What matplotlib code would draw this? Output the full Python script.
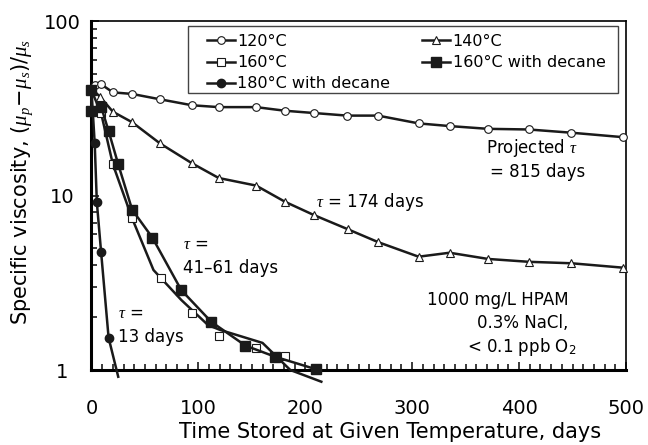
import matplotlib
matplotlib.use("Agg")
import matplotlib.pyplot as plt
from matplotlib.ticker import FixedLocator, NullFormatter, LogLocator
from matplotlib.lines import Line2D
from matplotlib.patches import Rectangle

plt.rcParams['font.family'] = ['DejaVu Sans']
plt.rcParams['mathtext.fontset'] = 'custom'
plt.rcParams['mathtext.rm'] = 'DejaVu Sans'
plt.rcParams['mathtext.it'] = 'Liberation Serif:italic'
plt.rcParams['mathtext.bf'] = 'DejaVu Sans:bold'

# ---- data ----
days_120 = [3, 9, 20, 38, 64, 94, 119, 154, 181, 208, 239, 268, 306, 335, 371, 409, 449, 497]
visc_120 = [43.0, 43.4, 39.0, 38.2, 35.6, 32.9, 32.1, 32.1, 30.6, 29.7, 28.7, 28.7, 25.9, 25.0, 24.1, 23.9, 22.9, 21.6]

days_140 = [0, 8, 20, 38, 64, 94, 119, 154, 181, 208, 240, 268, 306, 335, 371, 409, 449, 497]
visc_140 = [41.0, 36.8, 30.2, 26.3, 19.9, 15.3, 12.6, 11.4, 9.21, 7.73, 6.40, 5.41, 4.46, 4.70, 4.33, 4.17, 4.09, 3.86]

days_160 = [0, 9, 20, 38, 65, 94, 119, 154, 181]
visc_160 = [40.0, 29.6, 15.1, 7.4, 3.38, 2.11, 1.57, 1.34, 1.20]
fit_days_160 = [0, 9, 20, 38, 58, 84, 109, 120, 160, 186, 215]
fit_visc_160 = [40.0, 29.6, 15.1, 7.4, 3.74, 2.52, 1.81, 1.70, 1.43, 1.0, 0.857]

days_160d = [0, 0, 9, 16, 25, 38, 57, 84, 112, 144, 172, 210]
visc_160d = [40.0, 30.5, 32.3, 23.4, 15.1, 8.3, 5.73, 2.87, 1.89, 1.38, 1.19, 1.01]

days_180d = [0, 3, 5, 9, 16]
visc_180d = [40.0, 19.9, 9.14, 4.73, 1.53]
fit_days_180d = [0, 3, 5, 9, 16, 25]
fit_visc_180d = [40.0, 19.9, 9.14, 4.73, 1.53, 0.915]

x_ticks = [0, 100, 200, 300, 400, 500]
y_ticks = [1, 10, 100]
y_tick_labels = ['1', '10', '100']
legend_labels = ['120°C', '160°C', '180°C with decane', '140°C', '160°C with decane']

# ---- figure ----
fig = plt.figure(figsize=(6.48, 4.45), dpi=100)
ax = fig.add_axes([0.1412, 0.1685, 0.8248, 0.7843])

lw = 1.8
k = '#1a1a1a'
st_120 = dict(color=k, lw=lw, marker='o', ms=5.5, mfc='white', mec=k, mew=0.8)
st_160 = dict(color=k, lw=lw, marker='s', ms=5.5, mfc='white', mec=k, mew=0.8)
st_180d = dict(color=k, lw=lw, marker='o', ms=6, mfc=k, mec=k)
st_140 = dict(color=k, lw=lw, marker='^', ms=5.5, mfc='white', mec=k, mew=0.8)
st_160d = dict(color=k, lw=lw, marker='s', ms=7, mfc=k, mec=k)

ax.plot(days_120, visc_120, '-', clip_on=False, zorder=3, **st_120)
ax.plot(fit_days_160, fit_visc_160, '-', color=k, lw=lw, clip_on=False, zorder=3)
ax.plot(days_160, visc_160, linestyle='none', clip_on=False, zorder=4,
        **{kk: v for kk, v in st_160.items() if kk not in ('lw',)})
ax.plot(fit_days_180d, fit_visc_180d, '-', color=k, lw=lw, clip_on=False, zorder=3)
ax.plot(days_180d, visc_180d, linestyle='none', clip_on=False, zorder=4,
        **{kk: v for kk, v in st_180d.items() if kk not in ('lw',)})
ax.plot(days_140, visc_140, '-', clip_on=False, zorder=3, **st_140)
ax.plot(days_160d, visc_160d, '-', clip_on=False, zorder=5, **st_160d)

# legend
h = [Line2D([], [], **st_120), Line2D([], [], **st_160), Line2D([], [], **st_180d),
     Line2D([], [], **st_140), Line2D([], [], **st_160d)]
leg = ax.legend(h, legend_labels, ncol=2, loc='upper left', bbox_to_anchor=(0.216, 0.963),
                fontsize=11.5, frameon=False,
                handlelength=1.75, handletextpad=0.15, columnspacing=2.0,
                labelspacing=0.39, borderpad=0.0, borderaxespad=0.0)
ax.add_patch(Rectangle((0.1805, 0.7937), 0.9850 - 0.1805, 0.9857 - 0.7937,
                       transform=ax.transAxes, fill=False, edgecolor='#444444',
                       lw=1.0, zorder=6))

ax.set_yscale('log')
ax.set_xlim(0, 500)
ax.set_ylim(1, 100)
ax.xaxis.set_major_locator(FixedLocator(x_ticks))
ax.xaxis.set_minor_locator(FixedLocator(list(range(0, 501, 10))))
ax.yaxis.set_major_locator(FixedLocator(y_ticks))
ax.set_yticklabels(y_tick_labels)
ax.yaxis.set_minor_locator(LogLocator(base=10, subs=range(2, 10)))
ax.yaxis.set_minor_formatter(NullFormatter())
ax.tick_params(which='both', direction='in', labelsize=14, width=1.2, color=k)
ax.tick_params(which='major', length=6)
ax.tick_params(which='minor', length=4)
ax.tick_params(axis='x', pad=21)
ax.tick_params(axis='y', pad=21)
for lab in ax.get_yticklabels():
    lab.set_ha('center')

for s in ['left', 'bottom']:
    ax.spines[s].set_linewidth(2.2)
for s in ['top', 'right']:
    ax.spines[s].set_linewidth(1.2)

ax.set_xlabel('Time Stored at Given Temperature, days', fontsize=15)
ax.xaxis.label.set_va('center')
ax.xaxis.set_label_coords(0.558, -0.178)
ax.set_ylabel(r'Specific viscosity, $(\mu_p\!-\!\mu_s)/\mu_s$', fontsize=15)
ax.yaxis.label.set_va('center')
ax.yaxis.set_label_coords(-0.130, 0.539)

fs = 12
ax.text(411.7, 18.7, r'Projected $\tau$', ha='center', va='center', fontsize=fs)
ax.text(417, 13.6, '= 815 days', ha='center', va='center', fontsize=fs)
ax.text(210, 9.18, r'$\tau$ = 174 days', ha='left', va='center', fontsize=fs)
ax.text(85.5, 5.27, r'$\tau$ =', ha='left', va='center', fontsize=fs)
ax.text(85.5, 3.84, '41–61 days', ha='left', va='center', fontsize=fs)
ax.text(24.8, 2.12, r'$\tau$ =', ha='left', va='center', fontsize=fs)
ax.text(24.8, 1.55, '13 days', ha='left', va='center', fontsize=fs)
ax.text(446, 2.52, '1000 mg/L HPAM', ha='right', va='center', fontsize=fs)
ax.text(446, 1.86, '0.3% NaCl,', ha='right', va='center', fontsize=fs)
ax.text(453.7, 1.35, r'< 0.1 ppb O$_2$', ha='right', va='center', fontsize=fs)

fig.savefig('out.png', dpi=100)
